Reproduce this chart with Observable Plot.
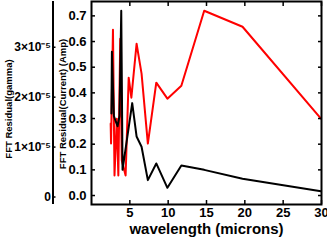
<!DOCTYPE html>
<html><head><meta charset="utf-8">
<script src="https://cdn.jsdelivr.net/npm/d3@7"></script>
<script src="https://cdn.jsdelivr.net/npm/@observablehq/plot@0.6"></script>
<style>
body{margin:0;background:#fff;}
svg{font-family:"Liberation Sans",Arial,sans-serif;font-weight:bold;}
</style>
</head><body><div id="chart"></div>
<script>
// Current residual (black), wavelength in microns
const currentX = [2.6, 2.66, 2.92, 3.15, 3.4, 3.65, 3.88, 4.05, 5.31, 5.88, 6.53, 7.35, 8.45, 9.9, 11.72, 14.7, 19.7, 29.93];
const currentY = [0.32, 0.56, 0.31, 0.29, 0.27, 0.31, 0.72, 0.10, 0.36, 0.23, 0.19, 0.06, 0.125, 0.03, 0.117, 0.10, 0.065, 0.017];
// Gamma residual (red)
const gammaX = [2.5, 2.55, 2.8, 3.0, 3.3, 3.5, 3.75, 3.95, 4.45, 4.85, 5.2, 5.88, 6.53, 7.35, 8.45, 9.9, 11.72, 14.7, 19.7, 29.93];
const gammaY = [14.7e-6, 10.7e-6, 33.5e-6, 4.3e-6, 15.7e-6, 4.3e-6, 31.7e-6, 7.3e-6, 4.3e-6, 23.9e-6, 19.9e-6, 30.7e-6, 24.7e-6, 10.7e-6, 22.9e-6, 19.7e-6, 22.3e-6, 37.3e-6, 34.1e-6, 15.7e-6];

const xTicks = [5, 10, 15, 20, 25, 30];
const yTicks = [0, 0.1, 0.2, 0.3, 0.4, 0.5, 0.6, 0.7];
const gammaTicks = [0, 1e-5, 2e-5, 3e-5];
const gammaLabels = ["0", "1×10⁻⁵", "2×10⁻⁵", "3×10⁻⁵"];

const xDomain = [0, 30];
const yDomain = [-0.035, 0.756];
const gammaDomain = [-1.5e-6, 3.916e-5];
const toCurrent = d3.scaleLinear().domain(gammaDomain).range(yDomain);

const black = currentX.map((x, i) => ({x, y: currentY[i]}));
const red = gammaX.map((x, i) => ({x, y: toCurrent(gammaY[i])}));
const gammaTickPos = gammaTicks.map(toCurrent);
const gammaFmt = d => {
  const i = gammaTickPos.findIndex(p => Math.abs(p - d) < 1e-9);
  return i >= 0 ? gammaLabels[i] : "";
};

const chart = Plot.plot({
  width: 327, height: 242,
  marginLeft: 91, marginRight: 6, marginTop: 1, marginBottom: 38,
  style: {fontFamily: "Liberation Sans, Arial, sans-serif", fontWeight: "bold", fontSize: "13px", color: "black"},
  x: {domain: xDomain},
  y: {domain: yDomain},
  marks: [
    Plot.lineY(red, {x: "x", y: "y", stroke: "#ff0000", strokeWidth: 2}),
    Plot.lineY(black, {x: "x", y: "y", stroke: "#000", strokeWidth: 2}),
    Plot.frame({stroke: "#000", strokeWidth: 2}),
    // x axis labels and inward ticks
    Plot.axisX({anchor: "bottom", ticks: xTicks, tickSize: 0, tickPadding: 3, label: null, fontSize: 13}),
    Plot.axisX({anchor: "bottom", ticks: xTicks, tickSize: -4, text: null, tickFormat: null, label: null, strokeWidth: 1.5}),
    Plot.axisX({anchor: "top", ticks: xTicks, tickSize: -4, text: null, tickFormat: null, label: null, strokeWidth: 1.5}),
    // current y axis
    Plot.axisY({anchor: "left", ticks: yTicks, tickSize: 0, tickPadding: 5, tickFormat: d3.format(".1f"), label: null, fontSize: 13}),
    Plot.axisY({anchor: "left", ticks: yTicks, tickSize: -4, text: null, tickFormat: null, label: null, strokeWidth: 1.5}),
    Plot.axisY({anchor: "right", ticks: yTicks, tickSize: -4, text: null, tickFormat: null, label: null, strokeWidth: 1.5}),
    // gamma axis
    Plot.ruleX([0], {dx: -38.5, stroke: "#000", strokeWidth: 2}),
    Plot.axisY({anchor: "left", ticks: gammaTickPos, dx: -38.5, tickSize: -3, text: null, tickFormat: null, label: null, strokeWidth: 1.5}),
    Plot.axisY({anchor: "left", ticks: gammaTickPos, dx: -38.5, tickSize: 0, tickPadding: 2, tickFormat: gammaFmt, label: null, fontSize: 12}),
    // axis titles
    Plot.text(["wavelength (microns)"], {frameAnchor: "bottom", textAnchor: "middle", dy: 29, fontSize: 15, fontWeight: "bold"}),
    Plot.text(["FFT Residual(Current) (Amp)"], {frameAnchor: "left", textAnchor: "middle", rotate: -90, dx: -29, dy: 1, fontSize: 9.5, fontWeight: "bold"}),
    Plot.text(["FFT Residual(gamma)"], {frameAnchor: "left", textAnchor: "middle", rotate: -90, dx: -83, dy: 6, fontSize: 9.5, fontWeight: "bold"})
  ]
});
document.getElementById("chart").appendChild(chart);
</script></body></html>
